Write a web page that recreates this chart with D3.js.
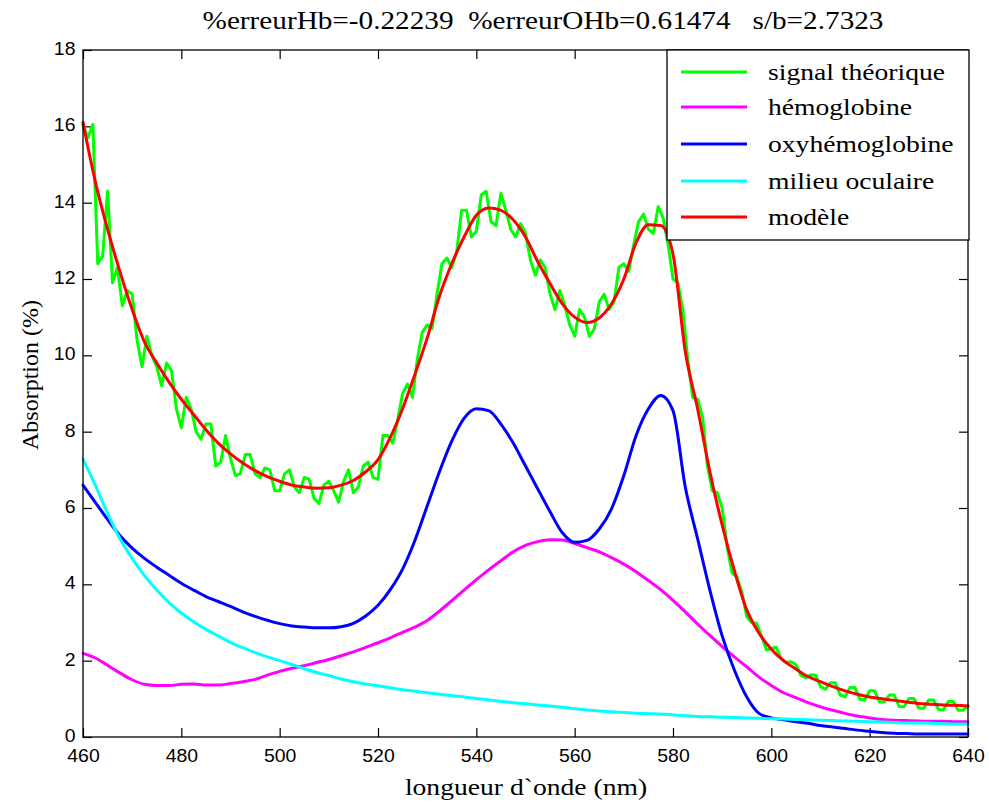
<!DOCTYPE html>
<html>
<head>
<meta charset="utf-8">
<script src="https://cdn.jsdelivr.net/npm/d3@7"></script>
<style>
  body { margin: 0; background: #fff; }
  svg { display: block; }
</style>
</head>
<body>
<svg id="viz"></svg>
<script>
// wavelength sampling (nm), like lambda = 460:1:640 in the original script
var lambdaSignal = d3.range(460, 640.5, 1);
var lambdaFit = d3.range(460, 640.1, 2.5);

var xTicks = [460, 480, 500, 520, 540, 560, 580, 600, 620, 640];
var yTicks = [0, 2, 4, 6, 8, 10, 12, 14, 16, 18];

// signal théorique, one value per nm
var signal = [
  16.05, 15.7, 16.05, 12.4, 12.6, 14.3, 11.9, 12.3, 11.3, 11.7,
  11.6, 10.4, 9.7, 10.5, 10.0, 9.7, 9.2, 9.8, 9.6, 8.6,
  8.1, 8.9, 8.6, 8.0, 7.8, 8.2, 8.2, 7.1, 7.2, 7.9,
  7.3, 6.85, 6.9, 7.4, 7.4, 6.9, 6.8, 7.05, 7.0, 6.45,
  6.45, 6.9, 7.0, 6.55, 6.4, 6.8, 6.75, 6.25, 6.12, 6.6,
  6.7, 6.45, 6.15, 6.7, 7.0, 6.4, 6.55, 7.1, 7.2, 6.8,
  6.75, 7.9, 7.9, 7.7, 8.3, 9.0, 9.25, 8.9, 9.9, 10.6,
  10.8, 10.7, 11.6, 12.4, 12.55, 12.3, 12.7, 13.8, 13.8, 13.1,
  13.25, 14.2, 14.3, 13.5, 13.4, 14.25, 13.8, 13.3, 13.1, 13.45,
  13.2, 12.5, 12.1, 12.5, 12.3, 11.6, 11.2, 11.7, 11.3, 10.8,
  10.5, 11.2, 11.0, 10.5, 10.7, 11.4, 11.6, 11.2, 11.4, 12.3,
  12.4, 12.2, 12.9, 13.5, 13.7, 13.3, 13.2, 13.9, 13.6, 12.9,
  12.0, 11.9, 11.2, 9.9, 8.9, 8.85, 8.4, 7.1, 6.45, 6.4,
  6.0, 5.0, 4.3, 4.2, 3.8, 3.15, 3.0, 2.98, 2.65, 2.28,
  2.32, 2.35, 2.05, 1.95, 1.97, 1.9, 1.62, 1.55, 1.63, 1.62,
  1.32, 1.25, 1.42, 1.42, 1.1, 1.05, 1.3, 1.3, 0.99, 0.97,
  1.21, 1.21, 0.92, 0.92, 1.1, 1.1, 0.8, 0.79, 1.01, 1.01,
  0.76, 0.75, 0.97, 0.97, 0.72, 0.71, 0.93, 0.93, 0.7, 0.7,
  0.82
];

// fitted components, one value every 2.5 nm
var hemoglobine = [
  2.19, 2.07, 1.88, 1.68, 1.5, 1.38, 1.35, 1.35, 1.38, 1.39,
  1.36, 1.36, 1.4, 1.45, 1.51, 1.62, 1.72, 1.8, 1.87, 1.95,
  2.03, 2.13, 2.23, 2.35, 2.47, 2.6, 2.74, 2.88, 3.05, 3.3,
  3.57, 3.85, 4.12, 4.38, 4.62, 4.85, 5.02, 5.12, 5.17, 5.16,
  5.07, 4.96, 4.85, 4.7, 4.53, 4.33, 4.1, 3.86, 3.58, 3.28,
  2.96, 2.66, 2.37, 2.1, 1.84, 1.57, 1.35, 1.16, 1.03, 0.9,
  0.79, 0.7, 0.62, 0.55, 0.5, 0.46, 0.44, 0.43, 0.42, 0.41,
  0.41, 0.4, 0.4
];
var oxyhemoglobine = [
  6.6, 6.15, 5.7, 5.28, 4.95, 4.68, 4.45, 4.24, 4.03, 3.85,
  3.68, 3.55, 3.42, 3.28, 3.16, 3.06, 2.97, 2.91, 2.88, 2.86,
  2.86, 2.89, 2.98, 3.17, 3.45, 3.86, 4.4, 5.15, 6.05, 6.95,
  7.75, 8.35, 8.6, 8.55, 8.2, 7.7, 7.1, 6.5, 5.9, 5.35,
  5.1, 5.15, 5.45, 5.98, 6.85, 7.9, 8.6, 8.95, 8.55, 6.55,
  5.2, 3.85, 2.65, 1.75, 1.05, 0.62, 0.5, 0.45, 0.4, 0.36,
  0.3, 0.26, 0.22, 0.18, 0.15, 0.12, 0.1, 0.09, 0.08, 0.08,
  0.08, 0.08, 0.08
];
var milieuOculaire = [
  7.28, 6.6, 5.86, 5.2, 4.68, 4.23, 3.85, 3.52, 3.25, 3.02,
  2.82, 2.65, 2.48, 2.34, 2.21, 2.1, 2.0, 1.9, 1.79, 1.69,
  1.61, 1.52, 1.45, 1.39, 1.34, 1.29, 1.24, 1.2, 1.16, 1.12,
  1.08, 1.05, 1.01, 0.97, 0.93, 0.9, 0.87, 0.84, 0.81, 0.78,
  0.74, 0.71, 0.68, 0.66, 0.64, 0.62, 0.61, 0.6, 0.58, 0.56,
  0.54, 0.53, 0.52, 0.51, 0.5, 0.49, 0.48, 0.47, 0.46, 0.45,
  0.44, 0.43, 0.42, 0.41, 0.4, 0.39, 0.38, 0.37, 0.37, 0.36,
  0.35, 0.34, 0.34
];
var modele = [
  16.1, 14.55, 13.3, 12.2, 11.2, 10.35, 9.8, 9.3, 8.85, 8.45,
  8.05, 7.7, 7.42, 7.18, 6.98, 6.82, 6.7, 6.6, 6.55, 6.52,
  6.53, 6.6, 6.72, 6.95, 7.27, 7.85, 8.6, 9.5, 10.45, 11.55,
  12.4, 13.1, 13.67, 13.86, 13.8, 13.55, 13.1, 12.45, 11.88, 11.35,
  11.0, 10.86, 10.98, 11.35, 12.0, 12.95, 13.42, 13.4, 12.65, 10.1,
  8.6, 6.95, 5.55, 4.35, 3.33, 2.72, 2.3, 2.0, 1.78, 1.58,
  1.45, 1.32, 1.21, 1.12, 1.05, 1.0, 0.96, 0.92, 0.88, 0.86,
  0.84, 0.83, 0.81
];

var titleText = '%erreurHb=-0.22239  %erreurOHb=0.61474   s/b=2.7323';

var series = [
  {name: 'signal théorique', color: '#00ff00', x: lambdaSignal, y: signal, curve: d3.curveLinear},
  {name: 'hémoglobine', color: '#ff00ff', x: lambdaFit, y: hemoglobine, curve: d3.curveMonotoneX},
  {name: 'oxyhémoglobine', color: '#0000ff', x: lambdaFit, y: oxyhemoglobine, curve: d3.curveMonotoneX},
  {name: 'milieu oculaire', color: '#00ffff', x: lambdaFit, y: milieuOculaire, curve: d3.curveMonotoneX},
  {name: 'modèle', color: '#ff0000', x: lambdaFit, y: modele, curve: d3.curveMonotoneX}
];

/** Initial setting */
var width = 989;
var height = 806;
var margin = {top: 50, right: 21, bottom: 69, left: 83};
var drawWidth = width - margin.left - margin.right;
var drawHeight = height - margin.top - margin.bottom;
var stretch = 1.15;   // the exported figure is a little wider than tall
var serif = "'Liberation Serif'";
var sans = "'Liberation Sans'";

var svg = d3.select('#viz')
            .attr('width', width)
            .attr('height', height);

svg.append('rect').attr('width', width).attr('height', height).attr('fill', '#fff');

var g = svg.append('g')
           .attr('transform', `translate(${margin.left}, ${margin.top})`);

var xScale = d3.scaleLinear().domain([460, 640]).range([0, drawWidth]);
var yScale = d3.scaleLinear().domain([0, 18]).range([drawHeight, 0]);

// axes, ticks pointing inward on all four sides
var tickLen = 9;
var xAxis = d3.axisBottom(xScale).tickValues(xTicks).tickSizeInner(-tickLen).tickSizeOuter(0).tickPadding(12);
var yAxis = d3.axisLeft(yScale).tickValues(yTicks).tickSizeInner(-tickLen).tickSizeOuter(0).tickPadding(7);
var xTop = d3.axisTop(xScale).tickValues(xTicks).tickSizeInner(-tickLen).tickSizeOuter(0).tickFormat('');
var yRight = d3.axisRight(yScale).tickValues(yTicks).tickSizeInner(-tickLen).tickSizeOuter(0).tickFormat('');

function styleAxis(sel) {
  sel.attr('font-family', null).attr('font-size', null);
  sel.select('.domain').remove();
  sel.selectAll('line').attr('stroke', '#000').attr('stroke-width', 1.2);
  sel.selectAll('text').attr('fill', '#000')
     .style('font-family', sans).style('font-size', '18px');
}

g.append('g').attr('transform', `translate(0, ${drawHeight})`).call(xAxis).call(styleAxis)
  .selectAll('text').attr('transform', 'scale(1.08,1)');
g.append('g').call(yAxis).call(styleAxis)
  .selectAll('text').attr('dy', '0.25em').attr('transform', 'scale(1.08,1)');
g.append('g').call(xTop).call(styleAxis);
g.append('g').attr('transform', `translate(${drawWidth}, 0)`).call(yRight).call(styleAxis);

// series
var line = d3.line();
series.forEach(function(s) {
  var pts = s.x.map((d, i) => [d, s.y[i]]);
  g.append('path')
   .datum(pts)
   .attr('fill', 'none')
   .attr('stroke', s.color)
   .attr('stroke-width', 3)
   .attr('stroke-linejoin', 'round')
   .attr('stroke-linecap', 'round')
   .attr('d', line.curve(s.curve).x(d => xScale(d[0])).y(d => yScale(d[1])));
});

// frame
g.append('rect')
 .attr('width', drawWidth).attr('height', drawHeight)
 .attr('fill', 'none').attr('stroke', '#000').attr('stroke-width', 1.3);

// legend
var legend = svg.append('g').attr('transform', 'translate(667, 50)');
legend.append('rect')
      .attr('width', 302).attr('height', 190)
      .attr('fill', '#fff').attr('stroke', '#000').attr('stroke-width', 1.3);
var rowY = [22, 57, 94, 131, 167];
series.forEach(function(s, i) {
  legend.append('line')
        .attr('x1', 14).attr('x2', 80)
        .attr('y1', rowY[i]).attr('y2', rowY[i])
        .attr('stroke', s.color).attr('stroke-width', 3);
  legend.append('text')
        .attr('transform', `translate(101, ${rowY[i] + 8}) scale(${stretch},1)`)
        .style('font-family', serif).style('font-size', '24px')
        .text(s.name);
});

// title and axis labels
svg.append('text')
   .attr('transform', 'translate(543, 29) scale(1.17,1)')
   .attr('text-anchor', 'middle')
   .style('font-family', serif).style('font-size', '25px')
   .style('white-space', 'pre')
   .text(titleText);

svg.append('text')
   .attr('transform', `translate(526, 795) scale(${stretch},1)`)
   .attr('text-anchor', 'middle')
   .style('font-family', serif).style('font-size', '24px')
   .text('longueur d`onde (nm)');

svg.append('text')
   .attr('transform', 'translate(38, 375) rotate(-90)')
   .attr('text-anchor', 'middle')
   .style('font-family', serif).style('font-size', '24px')
   .text('Absorption (%)');
</script>
</body>
</html>
